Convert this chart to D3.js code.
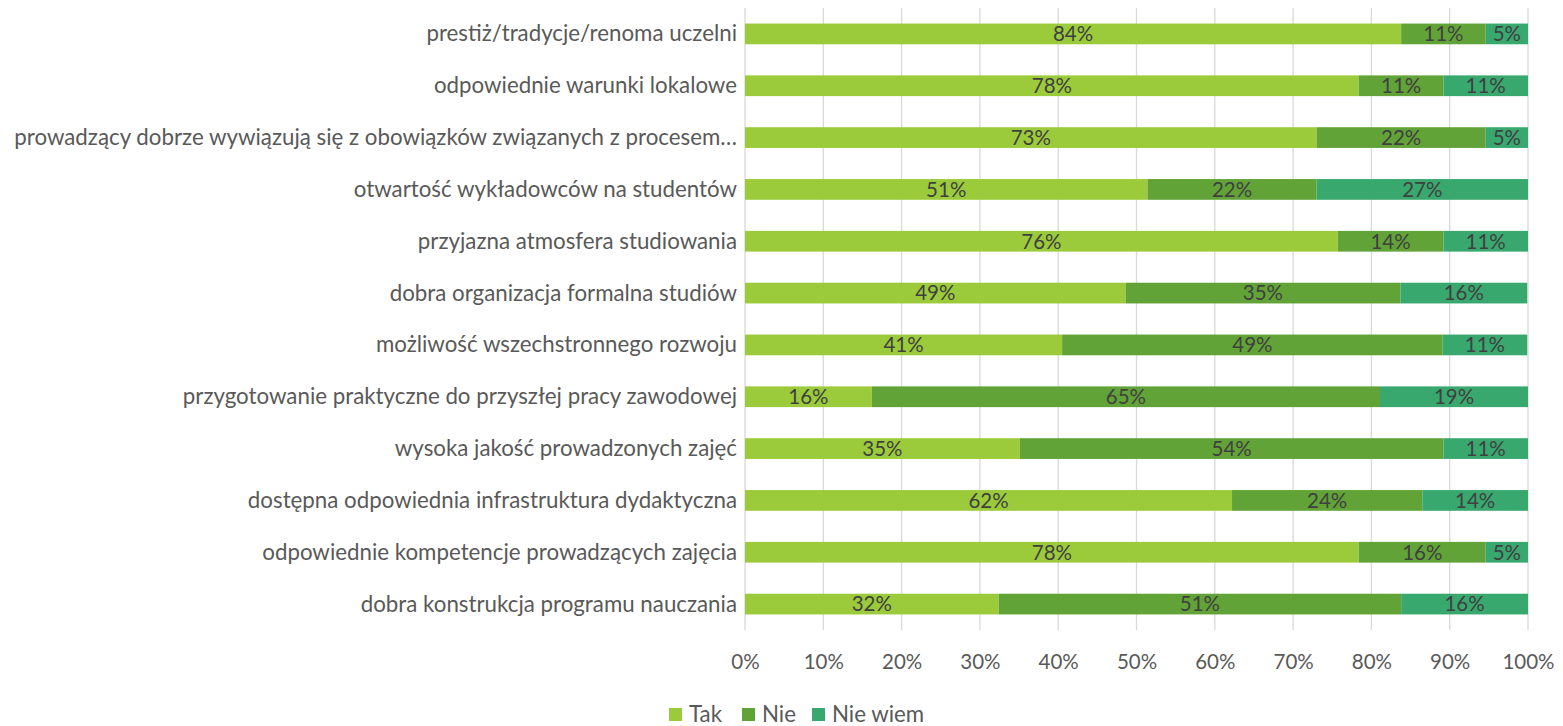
<!DOCTYPE html>
<html>
<head>
<meta charset="utf-8">
<script src="https://cdn.jsdelivr.net/npm/d3@7"></script>
<style>
  body { margin: 0; background: #fff; }
  svg text { font-family: Lato, "Open Sans", sans-serif; }
</style>
</head>
<body>
<div id="chart"></div>
<script>
// categories top -> bottom
const categories = [
  "prestiż/tradycje/renoma uczelni",
  "odpowiednie warunki lokalowe",
  "prowadzący dobrze wywiązują się z obowiązków związanych z procesem…",
  "otwartość wykładowców na studentów",
  "przyjazna atmosfera studiowania",
  "dobra organizacja formalna studiów",
  "możliwość wszechstronnego rozwoju",
  "przygotowanie praktyczne do przyszłej pracy zawodowej",
  "wysoka jakość prowadzonych zajęć",
  "dostępna odpowiednia infrastruktura dydaktyczna",
  "odpowiednie kompetencje prowadzących zajęcia",
  "dobra konstrukcja programu nauczania"
];

const seriesNames = ["Tak", "Nie", "Nie wiem"];
const tak     = [83.8, 78.4, 73.0, 51.4, 75.7, 48.6, 40.5, 16.2, 35.1, 62.2, 78.4, 32.4];
const nie     = [10.8, 10.8, 21.6, 21.6, 13.5, 35.1, 48.6, 64.9, 54.1, 24.3, 16.2, 51.4];
const nieWiem = [ 5.4, 10.8,  5.4, 27.0, 10.8, 16.2, 10.8, 18.9, 10.8, 13.5,  5.4, 16.2];
const xTicks = [0, 10, 20, 30, 40, 50, 60, 70, 80, 90, 100];

const colors = ["#9bcb3b", "#62a337", "#38a86f"];

const width = 1563, height = 726;
const margin = {top: 8, right: 35, bottom: 96, left: 745};
const labelSize = "22.3px";   // word labels
const numberSize = "20.5px";  // percentages

const svg = d3.select("#chart").append("svg")
    .attr("width", width)
    .attr("height", height);

const x = d3.scaleLinear().domain([0, 100]).range([margin.left, width - margin.right]);
const y = d3.scaleBand().domain(categories)
    .range([margin.top, height - margin.bottom])
    .paddingInner(0.6).paddingOuter(0.3);

// gridlines
svg.append("g")
  .selectAll("line")
  .data(xTicks)
  .enter().append("line")
    .attr("x1", d => x(d)).attr("x2", d => x(d))
    .attr("y1", margin.top).attr("y2", height - margin.bottom)
    .attr("stroke", "#d9d9d9")
    .attr("stroke-width", 1.3);

// stacked data
const rows = categories.map((c, i) => ({cat: c, Tak: tak[i], Nie: nie[i], "Nie wiem": nieWiem[i]}));
const stack = d3.stack().keys(seriesNames)(rows);

const layers = svg.append("g").selectAll("g")
  .data(stack)
  .enter().append("g")
    .attr("fill", (d, i) => colors[i]);

layers.selectAll("rect")
  .data(d => d)
  .enter().append("rect")
    .attr("x", d => x(d[0]))
    .attr("y", d => y(d.data.cat))
    .attr("width", d => x(d[1]) - x(d[0]))
    .attr("height", y.bandwidth());

layers.selectAll("text")
  .data(d => d)
  .enter().append("text")
    .attr("x", d => (x(d[0]) + x(d[1])) / 2)
    .attr("y", d => y(d.data.cat) + y.bandwidth() / 2)
    .attr("dy", "0.36em")
    .attr("text-anchor", "middle")
    .attr("fill", "#404040")
    .style("font-size", numberSize)
    .text(d => Math.round(d[1] - d[0]) + "%");

// category labels
svg.append("g")
  .selectAll("text")
  .data(categories)
  .enter().append("text")
    .attr("x", margin.left - 8)
    .attr("y", d => y(d) + y.bandwidth() / 2)
    .attr("dy", "0.34em")
    .attr("text-anchor", "end")
    .attr("fill", "#595959")
    .style("font-size", labelSize)
    .text(d => d);

// x axis labels
const xAxis = d3.axisBottom(x).tickValues(xTicks).tickSize(0).tickPadding(0)
    .tickFormat(d => d + "%");
const gx = svg.append("g")
    .attr("transform", "translate(0," + (height - margin.bottom + 32) + ")")
    .call(xAxis);
gx.select(".domain").remove();
gx.selectAll("text")
    .attr("y", 0).attr("dy", "0.36em")
    .attr("fill", "#595959")
    .style("font-size", numberSize)
    .style("font-family", "Lato, 'Open Sans', sans-serif");

// legend
const legendX = [669, 742, 812];
const legend = svg.append("g").selectAll("g")
  .data(seriesNames)
  .enter().append("g")
    .attr("transform", (d, i) => "translate(" + legendX[i] + "," + 708 + ")");
legend.append("rect")
    .attr("width", 13).attr("height", 13)
    .attr("fill", (d, i) => colors[i]);
legend.append("text")
    .attr("x", 20).attr("y", 6.5)
    .attr("dy", "0.34em")
    .attr("fill", "#595959")
    .style("font-size", labelSize)
    .text(d => d);
</script>
</body>
</html>
